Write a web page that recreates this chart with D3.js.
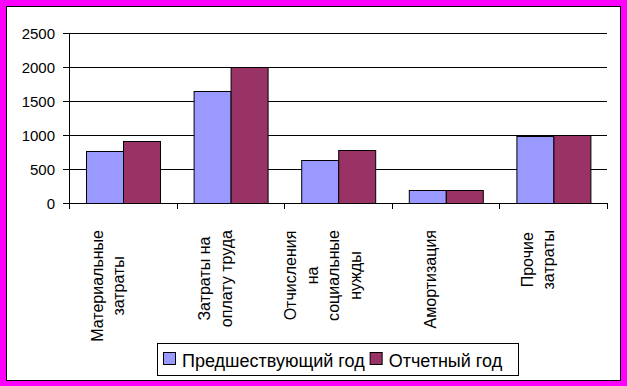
<!DOCTYPE html>
<html>
<head>
<meta charset="utf-8">
<script src="https://cdn.jsdelivr.net/npm/d3@7"></script>
<style>
	body { margin: 0; background: #fff; }
	text { font-family: Arial, "Liberation Sans", sans-serif; fill: #000; }
</style>
</head>
<body>
<div id="chart"></div>
<script>
var categories = [
	["Материальные", "затраты"],
	["Затраты на", "оплату труда"],
	["Отчисления", "на", "социальные", "нужды"],
	["Амортизация"],
	["Прочие", "затраты"]
];
var seriesNames = ["Предшествующий год", "Отчетный год"];
var prevYear = [760, 1640, 630, 185, 980];
var curYear = [910, 2000, 775, 185, 1000];
var yTicks = [0, 500, 1000, 1500, 2000, 2500];
var colors = ["#9999ff", "#993366"];

var W = 627, H = 386,
	plotLeft = 69, plotRight = 607,
	plotTop = 33, plotBottom = 203,
	lh = 21.5;

var svg = d3.select("#chart")
	.append("svg")
	.attr("width", W)
	.attr("height", H);

// frame
svg.append("rect")
	.attr("width", W).attr("height", H)
	.style("fill", "#ff00ff");
svg.append("rect")
	.attr("x", 6.5).attr("y", 6.5)
	.attr("width", 614).attr("height", 374)
	.style("fill", "#fff").style("stroke", "#000");

var x0 = d3.scaleBand()
	.domain(d3.range(categories.length))
	.range([plotLeft, plotRight]);

var x1 = d3.scaleBand()
	.domain([0, 1])
	.range([17, x0.bandwidth() - 17.5]);

var y = d3.scaleLinear()
	.domain([0, 2500])
	.range([plotBottom, plotTop]);

// gridlines + y ticks
svg.selectAll(".grid")
	.data(yTicks)
	.enter().append("line")
	.attr("class", "grid")
	.attr("x1", plotLeft - 6)
	.attr("x2", plotRight)
	.attr("y1", function(d) { return Math.round(y(d)) + 0.5; })
	.attr("y2", function(d) { return Math.round(y(d)) + 0.5; })
	.style("stroke", "#000");

svg.selectAll(".ylab")
	.data(yTicks)
	.enter().append("text")
	.attr("class", "ylab")
	.attr("x", 55)
	.attr("y", function(d) { return Math.round(y(d)) + 6; })
	.attr("text-anchor", "end")
	.style("font-size", "15px")
	.text(function(d) { return d; });

// bars
var groups = svg.selectAll(".bar")
	.data(d3.range(categories.length))
	.enter().append("g")
	.attr("class", "bar")
	.attr("transform", function(d) { return "translate(" + x0(d) + ",0)"; });

groups.selectAll("rect")
	.data(function(i) { return [prevYear[i], curYear[i]]; })
	.enter().append("rect")
	.attr("x", function(d, j) { return Math.round(x0.range()[0] % 1 + x1(j)) + 0.5; })
	.attr("y", function(d) { return Math.round(y(d)) + 0.5; })
	.attr("width", Math.round(x1.bandwidth()))
	.attr("height", function(d) { return Math.round(y(0)) - Math.round(y(d)); })
	.style("fill", function(d, j) { return colors[j]; })
	.style("stroke", "#000");

// axis lines
svg.append("line")
	.attr("x1", plotLeft + 0.5).attr("x2", plotLeft + 0.5)
	.attr("y1", plotTop).attr("y2", plotBottom + 6)
	.style("stroke", "#000");
svg.selectAll(".xtick")
	.data(d3.range(categories.length + 1))
	.enter().append("line")
	.attr("class", "xtick")
	.attr("x1", function(d) { return Math.round(plotLeft + d * x0.bandwidth()) + 0.5; })
	.attr("x2", function(d) { return Math.round(plotLeft + d * x0.bandwidth()) + 0.5; })
	.attr("y1", plotBottom).attr("y2", plotBottom + 6)
	.style("stroke", "#000");

// category labels, rotated, longest line starts at y=230
groups.each(function(i) {
	var lines = categories[i],
		n = lines.length,
		span = (n - 1) * lh + 13,
		c = x0.bandwidth() / 2 - 16,
		g = d3.select(this);
	var t = g.selectAll(".cat")
		.data(lines)
		.enter().append("text")
		.attr("class", "cat")
		.attr("text-anchor", "middle")
		.style("font-size", "16px")
		.text(function(d) { return d; });
	var maxW = d3.max(t.nodes(), function(node) { return node.getComputedTextLength(); });
	var cy = 230 + maxW / 2;
	t.attr("transform", function(d, k) {
		return "translate(" + (c - span / 2 + 13 + k * lh) + "," + cy + ") rotate(-90)";
	});
});

// legend
var legend = svg.append("g");
legend.append("rect")
	.attr("x", 157.5).attr("y", 343.5)
	.attr("width", 361).attr("height", 32)
	.style("fill", "#fff").style("stroke", "#000");

var lx = 163;
seriesNames.forEach(function(name, j) {
	legend.append("rect")
		.attr("x", lx + 0.5).attr("y", 352.5)
		.attr("width", 12).attr("height", 12)
		.style("fill", colors[j]).style("stroke", "#000");
	var txt = legend.append("text")
		.attr("x", lx + 19)
		.attr("y", 366.5)
		.style("font-size", "18px")
		.text(name);
	lx = lx + 19 + txt.node().getComputedTextLength() + 5;
});
</script>
</body>
</html>
